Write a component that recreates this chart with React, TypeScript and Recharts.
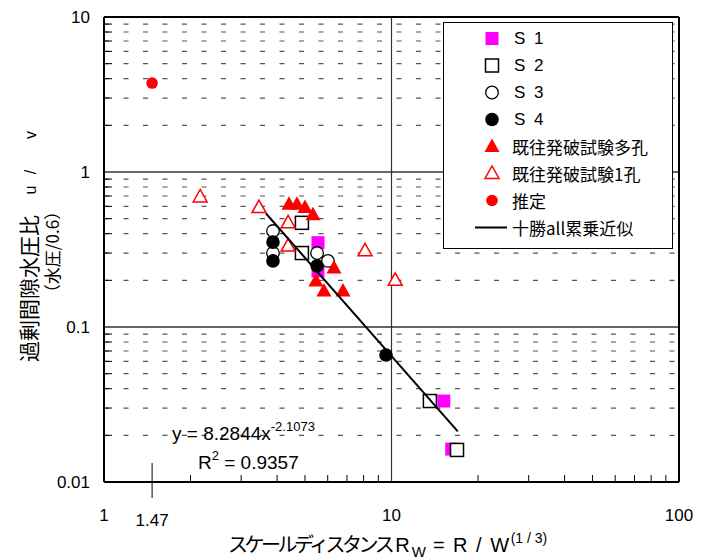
import React from "react"
import { ScatterChart, Scatter, XAxis, YAxis, ReferenceLine, Legend } from "recharts"

// 読み取り値 (x = スケールディスタンス, y = 過剰間隙水圧比)
const s1X = [5.55, 5.55, 15.2, 16.2]
const s1Y = [0.35, 0.23, 0.0333, 0.0163]
const s2X = [4.88, 4.88, 13.6, 16.9]
const s2Y = [0.47, 0.3, 0.0333, 0.0161]
const s3X = [3.87, 3.87, 5.51, 6.01]
const s3Y = [0.416, 0.3, 0.3, 0.267]
const s4X = [3.87, 3.87, 5.51, 9.57]
const s4Y = [0.353, 0.267, 0.248, 0.066]
const multiX = [4.4, 4.69, 5.0, 5.33, 6.31, 5.46, 5.82, 6.78]
const multiY = [0.62, 0.62, 0.59, 0.53, 0.24, 0.198, 0.171, 0.171]
const singleX = [2.16, 3.46, 4.37, 4.37, 8.09, 10.3]
const singleY = [0.69, 0.59, 0.47, 0.333, 0.31, 0.2]
const estX = [1.47]
const estY = [3.75]
const trendX = [3.66, 17.0]
const trendY = [0.54, 0.0212]

const xTicks = [1, 2, 3, 4, 5, 6, 7, 8, 9, 10, 20, 30, 40, 50, 60, 70, 80, 90, 100, 1.47]
const xLabels = [1, 10, 100]
const yTicks = [0.01, 0.02, 0.03, 0.04, 0.05, 0.06, 0.07, 0.08, 0.09, 0.1, 0.2, 0.3, 0.4, 0.5, 0.6, 0.7, 0.8, 0.9, 1, 2, 3, 4, 5, 6, 7, 8, 9, 10]
const yLabels = [0.01, 0.1, 1, 10]
const yMajorGrid = [0.1, 1]
const yMinorGrid = yTicks.filter((v) => !yLabels.includes(v))

const zip = (xs: number[], ys: number[]) => xs.map((x, i) => ({ x, y: ys[i] }))

const NUM_FONT = "'Liberation Sans', Arial, sans-serif"
const JP_FONT = "'Noto Sans CJK JP', sans-serif"

type ShapeKind = "sq" | "osq" | "oc" | "fc" | "tri" | "otri" | "red" | "line"

function Marker({ kind, cx, cy }: { kind: ShapeKind; cx: number; cy: number }) {
  switch (kind) {
    case "sq":
      return <rect x={cx - 6.5} y={cy - 6.5} width={13} height={13} fill="#ff00ff" />
    case "osq":
      return <rect x={cx - 6.5} y={cy - 6.5} width={13} height={13} fill="#fff" stroke="#000" strokeWidth={1.5} />
    case "oc":
      return <circle cx={cx} cy={cy} r={6.3} fill="#fff" stroke="#000" strokeWidth={1.3} />
    case "fc":
      return <circle cx={cx} cy={cy} r={6.8} fill="#000" />
    case "tri":
      return <polygon points={`${cx},${cy - 8} ${cx + 7.5},${cy + 5.5} ${cx - 7.5},${cy + 5.5}`} fill="#ff0000" />
    case "otri":
      return (
        <polygon
          points={`${cx},${cy - 7.5} ${cx + 7},${cy + 5} ${cx - 7},${cy + 5}`}
          fill="#fff"
          stroke="#ff0000"
          strokeWidth={1.5}
        />
      )
    case "red":
      return <circle cx={cx} cy={cy} r={5.8} fill="#ff0000" />
    default:
      return <g />
  }
}

const series: { name: string; kind: ShapeKind; data: { x: number; y: number }[] }[] = [
  { name: "S 1", kind: "sq", data: zip(s1X, s1Y) },
  { name: "S 2", kind: "osq", data: zip(s2X, s2Y) },
  { name: "S 3", kind: "oc", data: zip(s3X, s3Y) },
  { name: "S 4", kind: "fc", data: zip(s4X, s4Y) },
  { name: "既往発破試験多孔", kind: "tri", data: zip(multiX, multiY) },
  { name: "既往発破試験1孔", kind: "otri", data: zip(singleX, singleY) },
  { name: "推定", kind: "red", data: zip(estX, estY) },
]

function XTick(props: any) {
  const { x, y, payload } = props
  const v = payload.value
  if (v === 1.47) {
    return (
      <g>
        <line x1={x} x2={x} y1={y - 19} y2={y + 16} stroke="#000" strokeWidth={1} />
        <text x={x} y={y + 44} textAnchor="middle" fontSize={17} fontFamily={NUM_FONT} fill="#000">
          1.47
        </text>
      </g>
    )
  }
  if (xLabels.includes(v)) {
    return (
      <text x={x} y={y + 39} textAnchor="middle" fontSize={17} fontFamily={NUM_FONT} fill="#000">
        {v}
      </text>
    )
  }
  return <line x1={x} x2={x} y1={y} y2={y - 7} stroke="#000" strokeWidth={1} />
}

function YTick(props: any) {
  const { x, y, payload } = props
  const v = payload.value
  if (yLabels.includes(v)) {
    return (
      <text x={x - 14} y={y + 6} textAnchor="end" fontSize={17} fontFamily={NUM_FONT} fill="#000">
        {v}
      </text>
    )
  }
  return <line x1={x} x2={x + 8} y1={y} y2={y} stroke="#000" strokeWidth={1} />
}

function LegendBox() {
  const rows = [...series.map((s) => ({ name: s.name, kind: s.kind })), { name: "十勝all累乗近似", kind: "line" as ShapeKind }]
  return (
    <div
      style={{
        width: 228,
        height: 223,
        border: "1px solid #000",
        background: "#fff",
        paddingTop: 2,
        boxSizing: "content-box",
      }}
    >
      {rows.map((r) => (
        <div key={r.name} style={{ height: 27, display: "flex", alignItems: "center", position: "relative" }}>
          <svg width={70} height={27} style={{ flex: "none" }}>
            {r.kind === "line" ? (
              <line x1={31} x2={63} y1={13.5} y2={13.5} stroke="#000" strokeWidth={2} />
            ) : (
              <Marker kind={r.kind} cx={48} cy={13.5} />
            )}
          </svg>
          <span
            style={{
              fontFamily: r.name.startsWith("S") ? NUM_FONT : JP_FONT,
              fontSize: 17,
              color: "#000",
              marginLeft: r.name.startsWith("S") ? 0 : -2,
              whiteSpace: "pre",
              letterSpacing: r.name.startsWith("S") ? 2 : 0,
            }}
          >
            {r.name}
          </span>
        </div>
      ))}
    </div>
  )
}

export default function App() {
  return (
    <div style={{ position: "relative", width: 693, height: 551 }}>
      <ScatterChart width={693} height={543} margin={{ top: 9, right: 22, bottom: 0, left: 0 }}>
        <XAxis
          type="number"
          dataKey="x"
          scale="log"
          domain={[1, 100]}
          ticks={xTicks}
          interval={0}
          height={69}
          tickSize={0}
          tickMargin={0}
          tickLine={false}
          tick={<XTick />}
          axisLine={{ stroke: "#000", strokeWidth: 2 }}
          allowDataOverflow
        />
        <YAxis
          type="number"
          dataKey="y"
          scale="log"
          domain={[0.01, 10]}
          ticks={yTicks}
          interval={0}
          width={96}
          tickSize={0}
          tickMargin={0}
          tickLine={false}
          tick={<YTick />}
          axisLine={{ stroke: "#000", strokeWidth: 2 }}
          allowDataOverflow
        />
        {yMinorGrid.map((v) => (
          <ReferenceLine key={v} y={v} stroke="#555" strokeWidth={1.2} strokeDasharray="5 14.5" />
        ))}
        {yMajorGrid.map((v) => (
          <ReferenceLine key={v} y={v} stroke="#333" strokeWidth={1.5} />
        ))}
        <ReferenceLine x={10} stroke="#333" strokeWidth={1.2} />
        <ReferenceLine y={10} stroke="#000" strokeWidth={2} />
        <ReferenceLine x={100} stroke="#000" strokeWidth={2} />
        <Legend
          layout="vertical"
          align="center"
          verticalAlign="middle"
          content={() => <LegendBox />}
          wrapperStyle={{ position: "absolute", left: 435, top: 14, width: 230 }}
        />
        {series.map((s) => (
          <Scatter
            key={s.name}
            name={s.name}
            data={s.data}
            isAnimationActive={false}
            shape={(p: any) => <Marker kind={s.kind} cx={p.cx} cy={p.cy} />}
          />
        ))}
        <Scatter
          name="十勝all累乗近似"
          data={zip(trendX, trendY)}
          isAnimationActive={false}
          line={{ stroke: "#000", strokeWidth: 2 }}
          shape={() => <g />}
        />
      </ScatterChart>
      <svg
        width={693}
        height={551}
        style={{ position: "absolute", left: 0, top: 0, pointerEvents: "none", overflow: "visible" }}
      >
        <g transform="translate(22 354) rotate(-90)">
          <text x={0} y={7} fontSize={21} fontFamily={JP_FONT} fill="#000">
            過剰間隙水圧比
          </text>
          <text x={172} y={6} textAnchor="middle" fontSize={16} fontFamily={NUM_FONT} fill="#000">
            u
          </text>
          <text x={190} y={6} textAnchor="middle" fontSize={16} fontFamily={NUM_FONT} fill="#000">
            /
          </text>
          <text x={227} y={6} textAnchor="middle" fontSize={16} fontFamily={NUM_FONT} fill="#000">
            v
          </text>
        </g>
        <g transform="translate(45 244) rotate(-90)">
          <text x={0} y={6} textAnchor="middle" fontSize={17} fontFamily={JP_FONT} fill="#000">
            （水圧/0.6）
          </text>
        </g>
        <text x={164} y={432} fontSize={19} fontFamily={NUM_FONT} fill="#000">
          y = 8.2844x
          <tspan fontSize={13} dy={-9}>
            -2.1073
          </tspan>
        </text>
        <text x={190} y={461} fontSize={19} fontFamily={NUM_FONT} fill="#000">
          R
          <tspan fontSize={13} dy={-9}>
            2
          </tspan>
          <tspan dy={9}> = 0.9357</tspan>
        </text>
        <text x={220} y={544} fontSize={20} fontFamily={JP_FONT} fill="#000" letterSpacing={-3.5}>
          スケールディスタンス
          <tspan fontFamily={NUM_FONT} letterSpacing={0} fontSize={20} dx={4}>
            R
          </tspan>
          <tspan fontFamily={NUM_FONT} letterSpacing={0} fontSize={15} dy={5} dx={2}>
            W
          </tspan>
          <tspan fontFamily={NUM_FONT} letterSpacing={1.5} fontSize={20} dy={-5}>
            {" = R / W"}
          </tspan>
          <tspan fontFamily={NUM_FONT} letterSpacing={0} fontSize={14} dy={-9}>
            (1 / 3)
          </tspan>
        </text>
      </svg>
    </div>
  )
}
